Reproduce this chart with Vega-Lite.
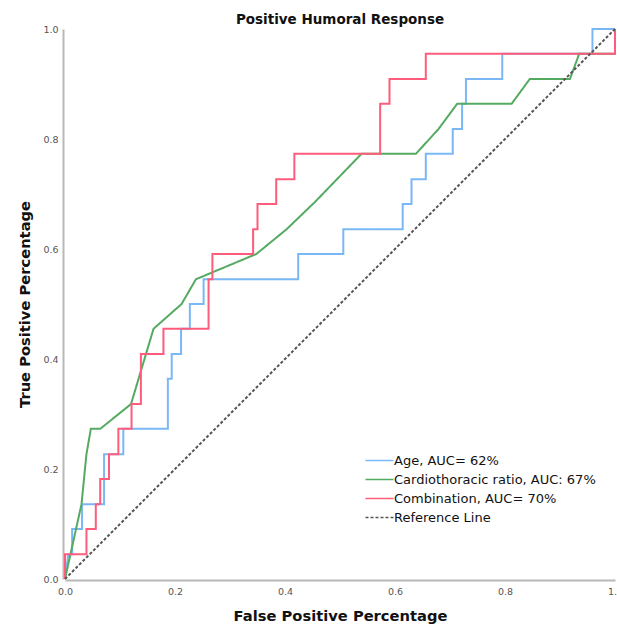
{
  "$schema": "https://vega.github.io/schema/vega-lite/v6.json",
  "width": 550,
  "height": 550,
  "autosize": {"type": "none"},
  "padding": {"left": 65, "top": 29, "right": 2, "bottom": 45},
  "background": "white",
  "title": {"text": "Positive Humoral Response", "font": "DejaVu Sans", "fontSize": 13.5, "fontWeight": "bold", "color": "#111", "offset": -2, "anchor": "middle"},
  "config": {"view": {"stroke": null}, "font": "DejaVu Sans"},
  "data": {"values": [
    {"series": "Age, AUC= 62%", "i": 1, "fpr": 0, "tpr": 0},
    {"series": "Age, AUC= 62%", "i": 2, "fpr": 0.006, "tpr": 0.045},
    {"series": "Age, AUC= 62%", "i": 3, "fpr": 0.013, "tpr": 0.045},
    {"series": "Age, AUC= 62%", "i": 4, "fpr": 0.013, "tpr": 0.091},
    {"series": "Age, AUC= 62%", "i": 5, "fpr": 0.031, "tpr": 0.091},
    {"series": "Age, AUC= 62%", "i": 6, "fpr": 0.031, "tpr": 0.136},
    {"series": "Age, AUC= 62%", "i": 7, "fpr": 0.071, "tpr": 0.136},
    {"series": "Age, AUC= 62%", "i": 8, "fpr": 0.071, "tpr": 0.227},
    {"series": "Age, AUC= 62%", "i": 9, "fpr": 0.106, "tpr": 0.227},
    {"series": "Age, AUC= 62%", "i": 10, "fpr": 0.106, "tpr": 0.273},
    {"series": "Age, AUC= 62%", "i": 11, "fpr": 0.187, "tpr": 0.273},
    {"series": "Age, AUC= 62%", "i": 12, "fpr": 0.187, "tpr": 0.364},
    {"series": "Age, AUC= 62%", "i": 13, "fpr": 0.194, "tpr": 0.364},
    {"series": "Age, AUC= 62%", "i": 14, "fpr": 0.194, "tpr": 0.409},
    {"series": "Age, AUC= 62%", "i": 15, "fpr": 0.211, "tpr": 0.409},
    {"series": "Age, AUC= 62%", "i": 16, "fpr": 0.211, "tpr": 0.455},
    {"series": "Age, AUC= 62%", "i": 17, "fpr": 0.227, "tpr": 0.455},
    {"series": "Age, AUC= 62%", "i": 18, "fpr": 0.227, "tpr": 0.5},
    {"series": "Age, AUC= 62%", "i": 19, "fpr": 0.252, "tpr": 0.5},
    {"series": "Age, AUC= 62%", "i": 20, "fpr": 0.252, "tpr": 0.545},
    {"series": "Age, AUC= 62%", "i": 21, "fpr": 0.424, "tpr": 0.545},
    {"series": "Age, AUC= 62%", "i": 22, "fpr": 0.424, "tpr": 0.591},
    {"series": "Age, AUC= 62%", "i": 23, "fpr": 0.506, "tpr": 0.591},
    {"series": "Age, AUC= 62%", "i": 24, "fpr": 0.506, "tpr": 0.636},
    {"series": "Age, AUC= 62%", "i": 25, "fpr": 0.614, "tpr": 0.636},
    {"series": "Age, AUC= 62%", "i": 26, "fpr": 0.614, "tpr": 0.682},
    {"series": "Age, AUC= 62%", "i": 27, "fpr": 0.63, "tpr": 0.682},
    {"series": "Age, AUC= 62%", "i": 28, "fpr": 0.63, "tpr": 0.727},
    {"series": "Age, AUC= 62%", "i": 29, "fpr": 0.656, "tpr": 0.727},
    {"series": "Age, AUC= 62%", "i": 30, "fpr": 0.656, "tpr": 0.773},
    {"series": "Age, AUC= 62%", "i": 31, "fpr": 0.705, "tpr": 0.773},
    {"series": "Age, AUC= 62%", "i": 32, "fpr": 0.705, "tpr": 0.818},
    {"series": "Age, AUC= 62%", "i": 33, "fpr": 0.722, "tpr": 0.818},
    {"series": "Age, AUC= 62%", "i": 34, "fpr": 0.722, "tpr": 0.864},
    {"series": "Age, AUC= 62%", "i": 35, "fpr": 0.729, "tpr": 0.864},
    {"series": "Age, AUC= 62%", "i": 36, "fpr": 0.729, "tpr": 0.909},
    {"series": "Age, AUC= 62%", "i": 37, "fpr": 0.795, "tpr": 0.909},
    {"series": "Age, AUC= 62%", "i": 38, "fpr": 0.795, "tpr": 0.955},
    {"series": "Age, AUC= 62%", "i": 39, "fpr": 0.959, "tpr": 0.955},
    {"series": "Age, AUC= 62%", "i": 40, "fpr": 0.959, "tpr": 1.0},
    {"series": "Age, AUC= 62%", "i": 41, "fpr": 1.0, "tpr": 1.0},

    {"series": "Cardiothoracic ratio, AUC: 67%", "i": 1, "fpr": 0, "tpr": 0},
    {"series": "Cardiothoracic ratio, AUC: 67%", "i": 2, "fpr": 0.03, "tpr": 0.136},
    {"series": "Cardiothoracic ratio, AUC: 67%", "i": 3, "fpr": 0.039, "tpr": 0.227},
    {"series": "Cardiothoracic ratio, AUC: 67%", "i": 4, "fpr": 0.047, "tpr": 0.273},
    {"series": "Cardiothoracic ratio, AUC: 67%", "i": 5, "fpr": 0.064, "tpr": 0.273},
    {"series": "Cardiothoracic ratio, AUC: 67%", "i": 6, "fpr": 0.12, "tpr": 0.318},
    {"series": "Cardiothoracic ratio, AUC: 67%", "i": 7, "fpr": 0.161, "tpr": 0.455},
    {"series": "Cardiothoracic ratio, AUC: 67%", "i": 8, "fpr": 0.212, "tpr": 0.5},
    {"series": "Cardiothoracic ratio, AUC: 67%", "i": 9, "fpr": 0.238, "tpr": 0.545},
    {"series": "Cardiothoracic ratio, AUC: 67%", "i": 10, "fpr": 0.348, "tpr": 0.591},
    {"series": "Cardiothoracic ratio, AUC: 67%", "i": 11, "fpr": 0.403, "tpr": 0.636},
    {"series": "Cardiothoracic ratio, AUC: 67%", "i": 12, "fpr": 0.455, "tpr": 0.686},
    {"series": "Cardiothoracic ratio, AUC: 67%", "i": 13, "fpr": 0.539, "tpr": 0.773},
    {"series": "Cardiothoracic ratio, AUC: 67%", "i": 14, "fpr": 0.638, "tpr": 0.773},
    {"series": "Cardiothoracic ratio, AUC: 67%", "i": 15, "fpr": 0.679, "tpr": 0.818},
    {"series": "Cardiothoracic ratio, AUC: 67%", "i": 16, "fpr": 0.713, "tpr": 0.864},
    {"series": "Cardiothoracic ratio, AUC: 67%", "i": 17, "fpr": 0.812, "tpr": 0.864},
    {"series": "Cardiothoracic ratio, AUC: 67%", "i": 18, "fpr": 0.845, "tpr": 0.909},
    {"series": "Cardiothoracic ratio, AUC: 67%", "i": 19, "fpr": 0.918, "tpr": 0.909},
    {"series": "Cardiothoracic ratio, AUC: 67%", "i": 20, "fpr": 0.935, "tpr": 0.955},
    {"series": "Cardiothoracic ratio, AUC: 67%", "i": 21, "fpr": 1.0, "tpr": 0.955},
    {"series": "Cardiothoracic ratio, AUC: 67%", "i": 22, "fpr": 1.0, "tpr": 1.0},

    {"series": "Combination, AUC= 70%", "i": 1, "fpr": 0, "tpr": 0},
    {"series": "Combination, AUC= 70%", "i": 2, "fpr": 0, "tpr": 0.045},
    {"series": "Combination, AUC= 70%", "i": 3, "fpr": 0.039, "tpr": 0.045},
    {"series": "Combination, AUC= 70%", "i": 4, "fpr": 0.039, "tpr": 0.091},
    {"series": "Combination, AUC= 70%", "i": 5, "fpr": 0.056, "tpr": 0.091},
    {"series": "Combination, AUC= 70%", "i": 6, "fpr": 0.056, "tpr": 0.136},
    {"series": "Combination, AUC= 70%", "i": 7, "fpr": 0.064, "tpr": 0.136},
    {"series": "Combination, AUC= 70%", "i": 8, "fpr": 0.064, "tpr": 0.182},
    {"series": "Combination, AUC= 70%", "i": 9, "fpr": 0.08, "tpr": 0.182},
    {"series": "Combination, AUC= 70%", "i": 10, "fpr": 0.08, "tpr": 0.227},
    {"series": "Combination, AUC= 70%", "i": 11, "fpr": 0.097, "tpr": 0.227},
    {"series": "Combination, AUC= 70%", "i": 12, "fpr": 0.097, "tpr": 0.273},
    {"series": "Combination, AUC= 70%", "i": 13, "fpr": 0.121, "tpr": 0.273},
    {"series": "Combination, AUC= 70%", "i": 14, "fpr": 0.121, "tpr": 0.318},
    {"series": "Combination, AUC= 70%", "i": 15, "fpr": 0.138, "tpr": 0.318},
    {"series": "Combination, AUC= 70%", "i": 16, "fpr": 0.138, "tpr": 0.409},
    {"series": "Combination, AUC= 70%", "i": 17, "fpr": 0.179, "tpr": 0.409},
    {"series": "Combination, AUC= 70%", "i": 18, "fpr": 0.179, "tpr": 0.455},
    {"series": "Combination, AUC= 70%", "i": 19, "fpr": 0.261, "tpr": 0.455},
    {"series": "Combination, AUC= 70%", "i": 20, "fpr": 0.261, "tpr": 0.545},
    {"series": "Combination, AUC= 70%", "i": 21, "fpr": 0.268, "tpr": 0.545},
    {"series": "Combination, AUC= 70%", "i": 22, "fpr": 0.268, "tpr": 0.591},
    {"series": "Combination, AUC= 70%", "i": 23, "fpr": 0.342, "tpr": 0.591},
    {"series": "Combination, AUC= 70%", "i": 24, "fpr": 0.342, "tpr": 0.636},
    {"series": "Combination, AUC= 70%", "i": 25, "fpr": 0.35, "tpr": 0.636},
    {"series": "Combination, AUC= 70%", "i": 26, "fpr": 0.35, "tpr": 0.682},
    {"series": "Combination, AUC= 70%", "i": 27, "fpr": 0.384, "tpr": 0.682},
    {"series": "Combination, AUC= 70%", "i": 28, "fpr": 0.384, "tpr": 0.727},
    {"series": "Combination, AUC= 70%", "i": 29, "fpr": 0.417, "tpr": 0.727},
    {"series": "Combination, AUC= 70%", "i": 30, "fpr": 0.417, "tpr": 0.773},
    {"series": "Combination, AUC= 70%", "i": 31, "fpr": 0.573, "tpr": 0.773},
    {"series": "Combination, AUC= 70%", "i": 32, "fpr": 0.573, "tpr": 0.864},
    {"series": "Combination, AUC= 70%", "i": 33, "fpr": 0.59, "tpr": 0.864},
    {"series": "Combination, AUC= 70%", "i": 34, "fpr": 0.59, "tpr": 0.909},
    {"series": "Combination, AUC= 70%", "i": 35, "fpr": 0.656, "tpr": 0.909},
    {"series": "Combination, AUC= 70%", "i": 36, "fpr": 0.656, "tpr": 0.955},
    {"series": "Combination, AUC= 70%", "i": 37, "fpr": 1.0, "tpr": 0.955},
    {"series": "Combination, AUC= 70%", "i": 38, "fpr": 1.0, "tpr": 1.0},

    {"series": "Reference Line", "i": 1, "fpr": 0, "tpr": 0},
    {"series": "Reference Line", "i": 2, "fpr": 1, "tpr": 1}
  ]},
  "mark": {"type": "line", "strokeWidth": 2, "clip": false},
  "encoding": {
    "x": {"field": "fpr", "type": "quantitative", "scale": {"domain": [0, 1], "nice": false, "zero": true},
      "axis": {"title": "False Positive Percentage", "values": [0, 0.2, 0.4, 0.6, 0.8, 1.0], "format": ".1f", "grid": false, "ticks": false, "labelFlush": false,
        "domainColor": "#b8b8b8", "domainWidth": 2, "offset": 1, "labelColor": "#555", "labelFontSize": 9.5, "labelPadding": 6,
        "titleFontSize": 14.7, "titleFontWeight": "bold", "titleColor": "#111", "titlePadding": 13}},
    "y": {"field": "tpr", "type": "quantitative", "scale": {"domain": [0, 1], "nice": false},
      "axis": {"title": "True Positive Percentage", "values": [0, 0.2, 0.4, 0.6, 0.8, 1.0], "format": ".1f", "grid": false, "ticks": false, "labelFlush": false,
        "domainColor": "#b8b8b8", "domainWidth": 2, "offset": 2, "labelColor": "#555", "labelFontSize": 9.5, "labelPadding": 5,
        "titleFontSize": 14.7, "titleFontWeight": "bold", "titleColor": "#111", "titlePadding": 10}},
    "order": {"field": "i", "type": "quantitative"},
    "color": {"field": "series", "type": "nominal",
      "scale": {"domain": ["Age, AUC= 62%", "Cardiothoracic ratio, AUC: 67%", "Combination, AUC= 70%", "Reference Line"],
        "range": ["#7ab8f5", "#55aa62", "#ff5c7c", "#555555"]},
      "legend": {"title": null, "orient": "none", "legendX": 303, "legendY": 420, "symbolType": "M-1.32,0H1.32", "symbolSize": 450,
        "symbolStrokeWidth": 1.5, "symbolFillColor": "transparent", "labelFont": "DejaVu Sans", "labelFontSize": 13, "labelColor": "#111", "labelOffset": 3, "rowPadding": 0, "labelLimit": 300}},
    "strokeDash": {"field": "series", "type": "nominal",
      "scale": {"domain": ["Age, AUC= 62%", "Cardiothoracic ratio, AUC: 67%", "Combination, AUC= 70%", "Reference Line"],
        "range": [[1, 0], [1, 0], [1, 0], [3, 2]]},
      "legend": {"title": null}},
    "strokeWidth": {"condition": {"test": "datum.series === 'Reference Line'", "value": 1.2}, "value": 2}
  }
}
